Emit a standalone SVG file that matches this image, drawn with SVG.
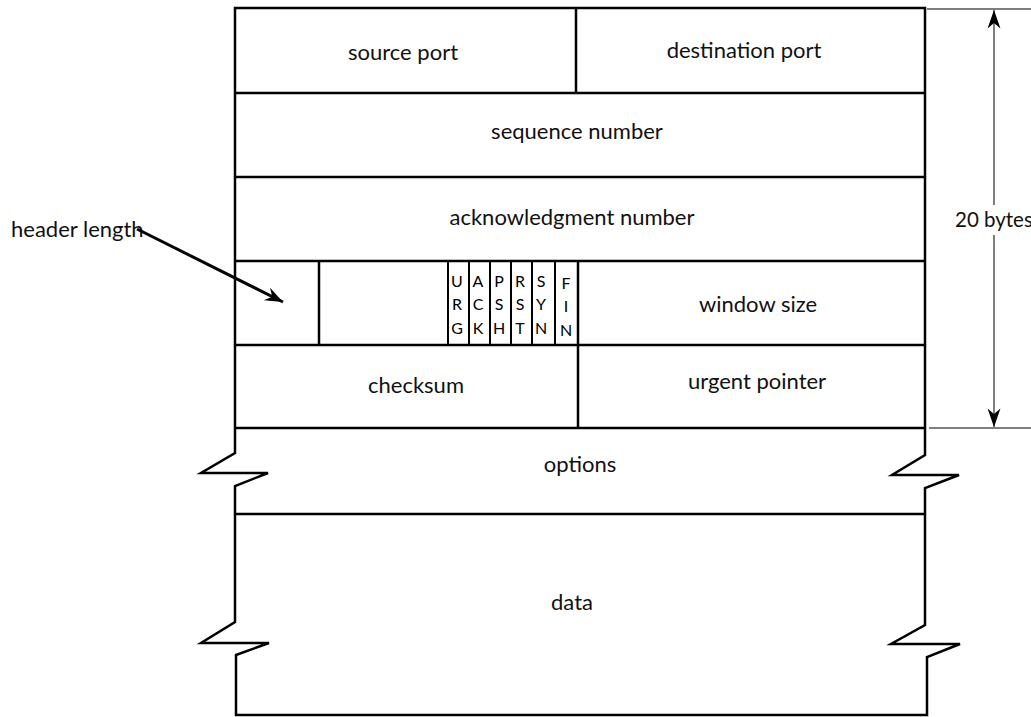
<svg xmlns="http://www.w3.org/2000/svg" width="1031" height="717" viewBox="0 0 1031 717">
<style>
  .frame{fill:none;stroke:#000;stroke-width:2.5;stroke-linejoin:miter}
  .div{fill:none;stroke:#000;stroke-width:2.5}
  .flagline{fill:none;stroke:#000;stroke-width:2}
  .lbl{font-family:Lato,"Liberation Sans",sans-serif;font-size:22px;fill:#111;text-anchor:middle}
  .lblL{font-family:Lato,"Liberation Sans",sans-serif;font-size:22px;fill:#111}
  .flag{font-family:Lato,"Liberation Sans",sans-serif;font-size:16px;font-weight:normal;fill:#000;text-anchor:middle}
  .dim{fill:none;stroke:#555;stroke-width:1.5}
  .arrow{fill:none;stroke:#000;stroke-width:3}
</style>
<defs>
  <marker id="head" markerUnits="userSpaceOnUse" markerWidth="24" markerHeight="20" viewBox="-20 -10 24 20" refX="0" refY="0" orient="auto">
    <path d="M0,0 L-18,-7 L-12,0 L-18,7 Z" fill="#000"/>
  </marker>
  <marker id="dimhead" markerUnits="userSpaceOnUse" markerWidth="24" markerHeight="20" viewBox="-22 -10 26 20" refX="0" refY="0" orient="auto">
    <path d="M0,0 L-20,-7 L-14,0 L-20,7 Z" fill="#000"/>
  </marker>
</defs>
<rect width="1031" height="717" fill="#fff"/>

<g id="frame">
  <path class="frame" d="M235,8 L925,8 L925,455 L892,475 L959,475 L925,488 L925,625 L891,644 L960,644 L927,657 L927,715 L236,715 L236,655 L269,643 L201,643 L235,622 L235,486 L268,473 L201,473 L235,453 Z"/>
  <path class="div" d="M235,93 H925 M235,177 H925 M235,261 H925 M235,345 H925 M235,428 H925 M235,514 H925"/>
</g>

<g id="source-port">
  <line class="div" x1="576" y1="8" x2="576" y2="93"/>
  <text class="lbl" x="403" y="60">source port</text>
</g>
<g id="destination-port">
  <text class="lbl" x="744" y="58">destination port</text>
</g>
<g id="sequence-number">
  <text class="lbl" x="577" y="139">sequence number</text>
</g>
<g id="acknowledgment-number">
  <text class="lbl" x="572" y="225">acknowledgment number</text>
</g>
<g id="header-length-field">
  <line class="div" x1="319" y1="261" x2="319" y2="345"/>
</g>
<g id="flags">
  <path class="flagline" d="M448,261 V345 M469,261 V345 M490,261 V345 M511,261 V345 M532,261 V345 M555,261 V345"/>
  <line class="div" x1="578" y1="261" x2="578" y2="345"/>
  <text class="flag" x="457" y="287">U</text>
  <text class="flag" x="457" y="310">R</text>
  <text class="flag" x="457" y="334">G</text>
  <text class="flag" x="478" y="287">A</text>
  <text class="flag" x="478" y="310">C</text>
  <text class="flag" x="478" y="334">K</text>
  <text class="flag" x="499" y="287">P</text>
  <text class="flag" x="499" y="310">S</text>
  <text class="flag" x="499" y="334">H</text>
  <text class="flag" x="520" y="287">R</text>
  <text class="flag" x="520" y="310">S</text>
  <text class="flag" x="520" y="334">T</text>
  <text class="flag" x="541" y="287">S</text>
  <text class="flag" x="541" y="310">Y</text>
  <text class="flag" x="541" y="334">N</text>
  <text class="flag" x="566" y="289">F</text>
  <text class="flag" x="566" y="312">I</text>
  <text class="flag" x="566" y="336">N</text>
</g>
<g id="window-size">
  <text class="lbl" x="758" y="312">window size</text>
</g>
<g id="checksum">
  <line class="div" x1="578" y1="345" x2="578" y2="428"/>
  <text class="lbl" x="416" y="393">checksum</text>
</g>
<g id="urgent-pointer">
  <text class="lbl" x="757" y="389">urgent pointer</text>
</g>
<g id="options">
  <text class="lbl" x="580" y="472">options</text>
</g>
<g id="data">
  <text class="lbl" x="572" y="610">data</text>
</g>
<g id="header-length-label">
  <text class="lblL" x="11" y="237">header length</text>
</g>
<g id="bytes-label">
  <text class="lblL" x="955" y="227" style="font-size:20.5px">20 bytes</text>
</g>

<g id="connectors">
  <line class="arrow" x1="137" y1="229" x2="283" y2="302" marker-end="url(#head)"/>
  <path class="dim" d="M927,9 H1031 M929,428 H1031"/>
  <line class="dim" x1="994" y1="205" x2="994" y2="10" marker-end="url(#dimhead)"/>
  <line class="dim" x1="994" y1="235" x2="994" y2="427" marker-end="url(#dimhead)"/>
</g>
</svg>
